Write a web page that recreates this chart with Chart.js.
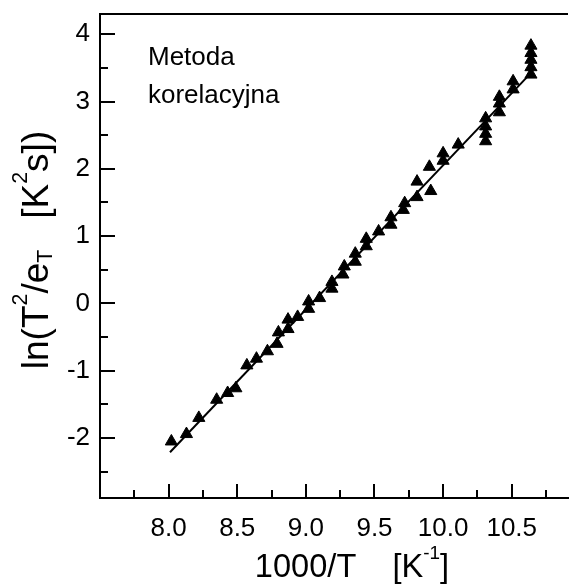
<!DOCTYPE html>
<html>
<head>
<meta charset="utf-8">
<script src="https://cdn.jsdelivr.net/npm/chart.js@4/dist/chart.umd.min.js"></script>
<style>
html, body { margin: 0; padding: 0; background: #fff; }
canvas { display: block; }
</style>
</head>
<body>
<canvas id="arrheniusChart" width="576" height="586"></canvas>
<script>
// dane
const invT = [8.02, 8.13, 8.22, 8.35, 8.43, 8.49, 8.57, 8.64, 8.72, 8.79,
    8.80, 8.87, 8.87, 8.94, 9.02, 9.02, 9.10, 9.19, 9.19, 9.27,
    9.28, 9.36, 9.36, 9.44, 9.44, 9.53, 9.62, 9.62, 9.71, 9.72,
    9.81, 9.81, 9.91, 9.90, 10.00, 10.00, 10.11, 10.31, 10.31, 10.31,
    10.31, 10.41, 10.41, 10.41, 10.51, 10.51, 10.64, 10.64, 10.64, 10.64, 10.64];
const lnTe = [-2.05, -1.94, -1.70, -1.43, -1.33, -1.26, -0.92, -0.82, -0.71, -0.60,
    -0.43, -0.38, -0.24, -0.20, -0.08, 0.03, 0.08, 0.22, 0.32, 0.43,
    0.55, 0.62, 0.74, 0.85, 0.96, 1.07, 1.17, 1.28, 1.39, 1.49,
    1.58, 1.81, 1.67, 2.03, 2.12, 2.23, 2.36, 2.41, 2.52, 2.63,
    2.75, 2.84, 2.97, 3.07, 3.18, 3.30, 3.40, 3.51, 3.62, 3.72, 3.83];

// prosta dopasowania (końce)
const fitX = [8.01, 10.62];
const fitY = [-2.21, 3.38];

const xTickLabels = ['8.0', '8.5', '9.0', '9.5', '10.0', '10.5'];
const yTickLabels = ['-2', '-1', '0', '1', '2', '3', '4'];
const noteLines = ['Metoda', 'korelacyjna'];

const FONT = '"Liberation Sans", Arial, sans-serif';
Chart.defaults.font.family = FONT;
Chart.defaults.color = '#000';

// tekst z indeksami górnymi / dolnymi
function drawRich(ctx, parts, size, x, y, angle) {
    ctx.save();
    ctx.translate(x, y);
    ctx.rotate(angle);
    ctx.fillStyle = '#000';
    ctx.textBaseline = 'alphabetic';
    ctx.textAlign = 'left';
    let w = 0;
    parts.forEach(p => {
        ctx.font = (p.s ? size * 0.58 : size) + 'px ' + FONT;
        w += ctx.measureText(p.t).width;
    });
    let cx = -w / 2;
    parts.forEach(p => {
        ctx.font = (p.s ? size * 0.58 : size) + 'px ' + FONT;
        let dy = 0;
        if (p.s === 'sup') dy = -size * 0.56;
        if (p.s === 'sub') dy = size * 0.12;
        ctx.fillText(p.t, cx, dy);
        cx += ctx.measureText(p.t).width;
    });
    ctx.restore();
}

const frame = {
    id: 'frame',
    afterDraw(chart) {
        const ctx = chart.ctx;
        const a = chart.chartArea;
        const xs = chart.scales.x, ys = chart.scales.y;
        ctx.save();
        ctx.strokeStyle = '#000';
        ctx.lineWidth = 2;
        // górna krawędź
        ctx.beginPath();
        ctx.moveTo(a.left, a.top);
        ctx.lineTo(a.right, a.top);
        ctx.stroke();
        // znaczniki do wewnątrz
        ctx.beginPath();
        xs.ticks.forEach(t => {
            const px = Math.round(xs.getPixelForValue(t.value));
            const len = t.value * 2 % 1 === 0 ? 14 : 8;
            ctx.moveTo(px, a.bottom);
            ctx.lineTo(px, a.bottom - len);
        });
        ys.ticks.forEach(t => {
            const py = Math.round(ys.getPixelForValue(t.value));
            const len = Number.isInteger(t.value) ? 15 : 8;
            ctx.moveTo(a.left, py);
            ctx.lineTo(a.left + len, py);
        });
        ctx.stroke();
        ctx.restore();

        // opis
        ctx.save();
        ctx.fillStyle = '#000';
        ctx.font = '26px ' + FONT;
        ctx.textBaseline = 'alphabetic';
        ctx.fillText(noteLines[0], 148, 65);
        ctx.fillText(noteLines[1], 148, 103);
        ctx.restore();

        // tytuły osi
        drawRich(ctx, [
            {t: '1000/T    [K'}, {t: '-1', s: 'sup'}, {t: ']'}
        ], 32.6, 352, 577, 0);
        drawRich(ctx, [
            {t: 'ln(T'}, {t: '2', s: 'sup'}, {t: '/e'}, {t: 'T', s: 'sub'},
            {t: '   [K'}, {t: '2', s: 'sup'}, {t: 's])'}
        ], 37, 48, 250, -Math.PI / 2);
    }
};

const points = invT.map((v, i) => ({x: v, y: lnTe[i]}));
const fitLine = fitX.map((v, i) => ({x: v, y: fitY[i]}));

new Chart(document.getElementById('arrheniusChart').getContext('2d'), {
    type: 'scatter',
    data: {
        datasets: [{
            data: fitLine,
            showLine: true,
            borderColor: '#000',
            borderWidth: 2,
            pointRadius: 0
        }, {
            data: points,
            pointStyle: 'triangle',
            pointRadius: 7,
            backgroundColor: '#000',
            borderColor: '#000',
            borderWidth: 1
        }]
    },
    options: {
        responsive: false,
        animation: false,
        layout: { padding: { top: 14, right: 0, left: 0, bottom: 0 } },
        plugins: {
            legend: { display: false },
            tooltip: { enabled: false }
        },
        scales: {
            x: {
                type: 'linear',
                position: 'bottom',
                min: 7.5,
                max: 10.91,
                grid: { display: false, drawTicks: false },
                border: { display: true, color: '#000', width: 2 },
                ticks: {
                    autoSkip: false,
                    maxRotation: 0,
                    padding: 15,
                    font: { size: 26 },
                    callback: v => xTickLabels.includes(v.toFixed(1)) && v * 2 % 1 === 0 ? v.toFixed(1) : ''
                },
                afterBuildTicks: s => {
                    s.ticks = [];
                    for (let v = 7.75; v < 10.9; v += 0.25) s.ticks.push({value: +v.toFixed(2)});
                },
                afterFit: s => { s.height = 88; s.paddingLeft = 0; s.paddingRight = 0; }
            },
            y: {
                min: -2.89,
                max: 4.30,
                grid: { display: false, drawTicks: false },
                border: { display: true, color: '#000', width: 2 },
                ticks: {
                    autoSkip: false,
                    padding: 10,
                    font: { size: 26 },
                    callback: v => yTickLabels.includes(String(v)) ? String(v) : ''
                },
                afterBuildTicks: s => {
                    s.ticks = [];
                    for (let v = -2.5; v <= 4.0; v += 0.5) s.ticks.push({value: v});
                },
                afterFit: s => { s.width = 100; s.paddingTop = 0; s.paddingBottom = 0; }
            }
        }
    },
    plugins: [frame]
});
</script>
</body>
</html>
